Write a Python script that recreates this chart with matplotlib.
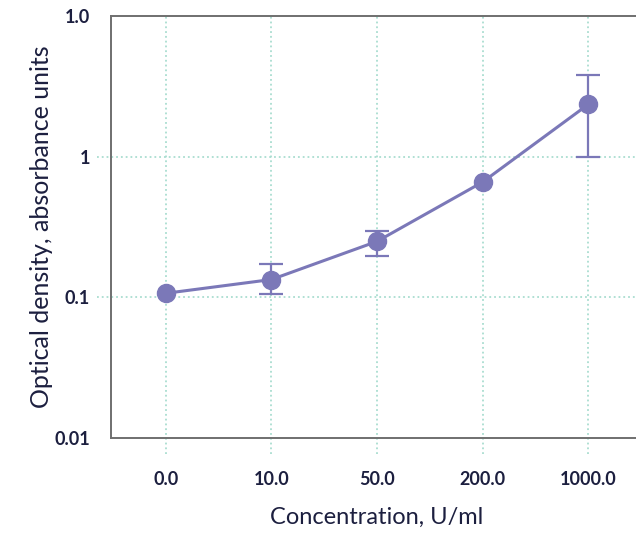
import numpy as np
import matplotlib
matplotlib.use("Agg")
import matplotlib.pyplot as plt
import matplotlib.transforms as mtransforms

# data
concentrations = ["0.0", "10.0", "50.0", "200.0", "1000.0"]
od_values = [0.107, 0.134, 0.250, 0.66, 2.35]
err_low = [0.107, 0.105, 0.196, 0.66, 1.0]
err_high = [0.107, 0.172, 0.296, 0.66, 3.79]
y_ticks = [0.01, 0.1, 1, 10]
y_tick_labels = ["0.01", "0.1", "1", "1.0"]

line_color = "#7b78b8"
grid_color = "#a9ddd0"
text_color = "#1c1f3f"
spine_color = "#6f6f6f"

plt.rcParams["font.family"] = ["Lato", "DejaVu Sans"]

fig = plt.figure(figsize=(6.36, 5.33), dpi=100)
ax = fig.add_axes([0.1745, 0.178, 0.8365, 0.792])

x = np.arange(len(concentrations))
od = np.array(od_values)
lo = np.array(err_low)
hi = np.array(err_high)
has_err = (hi - lo) > 0

ax.set_yscale("log")
ax.set_ylim(0.01, 10)
ax.set_xlim(-0.52, len(concentrations) - 0.48)

# dotted grid, extended a little past the spines like the reference
xt = mtransforms.blended_transform_factory(ax.transData, ax.transAxes)
ax.vlines(x, -0.037, 1, transform=xt, colors=grid_color, linestyles=":",
          linewidth=1.3, clip_on=False, zorder=0)
yt = mtransforms.blended_transform_factory(ax.transAxes, ax.transData)
ax.hlines(y_ticks[1:3], -0.027, 1, transform=yt, colors=grid_color,
          linestyles=":", linewidth=1.3, clip_on=False, zorder=0)

# error bars only where there is a spread
ax.errorbar(x[has_err], od[has_err],
            yerr=[od[has_err] - lo[has_err], hi[has_err] - od[has_err]],
            fmt="none", ecolor=line_color, elinewidth=1.6, capsize=8.5,
            capthick=1.6, zorder=2)
ax.plot(x, od, color=line_color, marker="o", markersize=13, linewidth=2.2,
        zorder=3)

ax.set_xticks(x)
ax.set_xticklabels(concentrations)
ax.set_yticks(y_ticks)
ax.set_yticklabels(y_tick_labels)
ax.yaxis.set_minor_locator(matplotlib.ticker.NullLocator())
ax.tick_params(axis="x", length=0, pad=24, labelsize=13, labelcolor=text_color)
ax.tick_params(axis="y", length=0, pad=15, labelsize=13, labelcolor=text_color)
for lab in ax.get_xticklabels() + ax.get_yticklabels():
    lab.set_fontweight("bold")

ax.set_xlabel("Concentration, U/ml", fontsize=17, color=text_color, labelpad=13)
ax.set_ylabel("Optical density, absorbance units", fontsize=18,
              color=text_color, labelpad=1)

for side in ["left", "bottom", "top"]:
    ax.spines[side].set_color(spine_color)
    ax.spines[side].set_linewidth(1.4)
ax.spines["right"].set_visible(False)

fig.savefig("out.png", dpi=100)
